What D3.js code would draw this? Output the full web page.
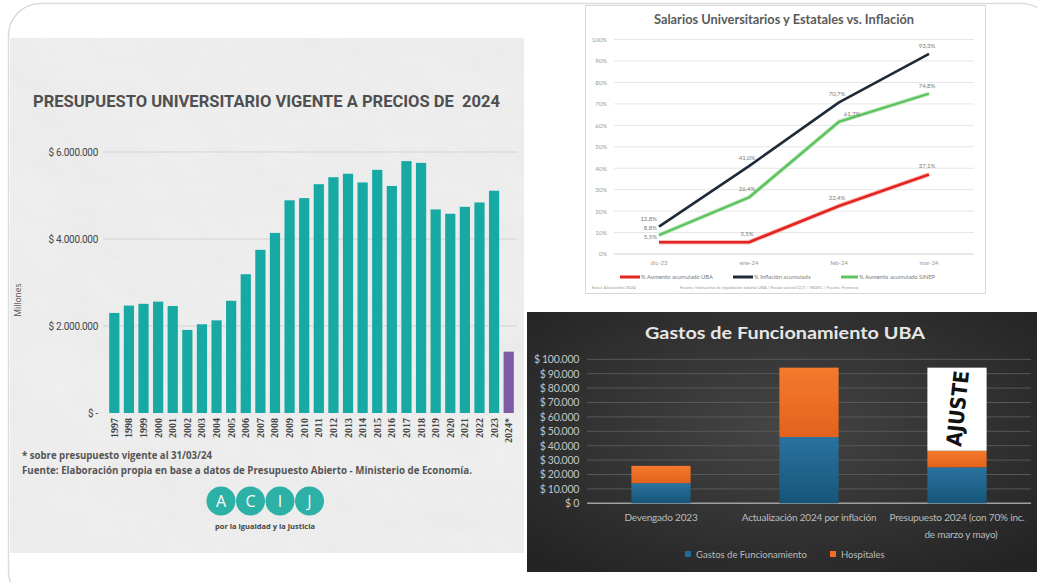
<!DOCTYPE html>
<html><head><meta charset="utf-8">
<script src="https://cdn.jsdelivr.net/npm/d3@7"></script>
<style>html,body{margin:0;padding:0;background:#fff;} svg{display:block;} .pre{white-space:pre;}</style>
</head><body>
<svg id="c" width="1037" height="583"></svg>
<script>
// ---------- Data: chart 1 (Presupuesto universitario) ----------
const years = ["1997","1998","1999","2000","2001","2002","2003","2004","2005","2006","2007","2008","2009","2010","2011","2012","2013","2014","2015","2016","2017","2018","2019","2020","2021","2022","2023","2024*"];
const budget = [2300000,2470000,2510000,2560000,2460000,1910000,2040000,2130000,2580000,3190000,3750000,4140000,4890000,4940000,5260000,5420000,5500000,5300000,5590000,5220000,5790000,5750000,4680000,4580000,4740000,4840000,5110000,1410000];
const budgetTicks = [0,2000000,4000000,6000000];
const budgetTickLabels = ["$ -","$ 2.000.000","$ 4.000.000","$ 6.000.000"];

// ---------- Data: chart 2 (Salarios vs inflación) ----------
const months = ["dic-23","ene-24","feb-24","mar-24"];
const aumentoUBA = [5.5,5.5,22.4,37.1];
const inflacion = [12.8,41.0,70.7,93.3];
const aumentoSINEP = [8.8,26.4,61.7,74.8];
const pctTicks = [0,10,20,30,40,50,60,70,80,90,100];
const lineSeriesNames = ["% Aumento acumulado UBA","% Inflación acumulada","% Aumento acumulado SINEP"];

// ---------- Data: chart 3 (Gastos de funcionamiento UBA) ----------
const gastosCats = ["Devengado 2023","Actualización 2024 por inflación","Presupuesto 2024 (con 70% inc. de marzo y mayo)"];
const gastosFuncionamiento = [14000,46000,25000];
const hospitales = [12000,48200,11500];
const ajuste = [0,0,57700];
const gastosTicks = [0,10000,20000,30000,40000,50000,60000,70000,80000,90000,100000];
const gastosSeriesNames = ["Gastos de Funcionamiento","Hospitales"];

const svg = d3.select("#c");
const defs = svg.append("defs");

// outer rounded frame
svg.append("rect").attr("x",8.5).attr("y",3.5).attr("width",1045).attr("height",600)
  .attr("rx",32).attr("fill","#fff").attr("stroke","#d6dde2").attr("stroke-width",1.5);

// ================= PANEL 1 =================
const paper = defs.append("filter").attr("id","paper").attr("x",0).attr("y",0).attr("width",1).attr("height",1);
paper.append("feTurbulence").attr("type","fractalNoise").attr("baseFrequency","0.006 0.009").attr("numOctaves",4).attr("seed",7).attr("result","n");
const lit = paper.append("feDiffuseLighting").attr("in","n").attr("surfaceScale",3).attr("lighting-color","#ffffff").attr("result","l");
lit.append("feDistantLight").attr("azimuth",135).attr("elevation",55);
paper.append("feComposite").attr("in","l").attr("in2","SourceGraphic").attr("operator","in");

const p1 = svg.append("g");
p1.append("rect").attr("x",10).attr("y",38).attr("width",514).attr("height",515).attr("fill","#f0f0f0");
p1.append("rect").attr("x",10).attr("y",38).attr("width",514).attr("height",515).attr("fill","#fff")
  .attr("filter","url(#paper)").attr("opacity",0.4);

p1.append("text").attr("class","pre").attr("x",33).attr("y",107).attr("textLength",467).attr("lengthAdjust","spacingAndGlyphs")
  .attr("font-family","Roboto").attr("font-weight",700).attr("font-size",16.5).attr("fill","#4f4f4f")
  .text("PRESUPUESTO UNIVERSITARIO VIGENTE A PRECIOS DE  2024");

const x1 = d3.scaleBand().domain(years).range([107,516]).paddingInner(0.3).paddingOuter(0.15);
const y1 = d3.scaleLinear().domain([0,6000000]).range([413,152]);

p1.append("g").selectAll("line").data(budgetTicks.slice(1)).join("line")
  .attr("x1",103).attr("x2",517).attr("y1",d=>y1(d)).attr("y2",d=>y1(d))
  .attr("stroke","#d3d3d3").attr("stroke-width",1);

const ay1 = p1.append("g").attr("transform","translate(98,0)")
  .call(d3.axisLeft(y1).tickValues(budgetTicks).tickFormat((d,i)=>budgetTickLabels[i]).tickSize(0).tickPadding(0));
ay1.select(".domain").remove();
ay1.selectAll("text").attr("font-family","Roboto").attr("font-size",10).attr("fill","#444").attr("letter-spacing",-0.3);

p1.append("g").selectAll("rect").data(budget).join("rect")
  .attr("x",(d,i)=>x1(years[i])).attr("width",x1.bandwidth())
  .attr("y",d=>y1(d)).attr("height",d=>y1(0)-y1(d))
  .attr("fill",(d,i)=>i===years.length-1?"#7d5ba6":"#17aaa5");

const ax1 = p1.append("g").attr("transform","translate(0,416)")
  .call(d3.axisBottom(x1).tickSize(0).tickPadding(0));
ax1.select(".domain").remove();
ax1.selectAll("text").attr("transform","rotate(-90)").attr("text-anchor","end")
  .attr("dy","0.35em").attr("dx",0).attr("x",-2).attr("y",0)
  .attr("font-family","Liberation Serif").attr("font-size",10).attr("font-weight",700).attr("fill","#444");

p1.append("text").attr("transform","translate(21,300) rotate(-90)").attr("text-anchor","middle")
  .attr("font-family","Open Sans").attr("font-size",8.5).attr("fill","#555").text("Millones");

p1.append("text").attr("x",22).attr("y",459).attr("textLength",190).attr("lengthAdjust","spacingAndGlyphs")
  .attr("font-family","Open Sans").attr("font-weight",700).attr("font-size",10).attr("fill","#555")
  .text("* sobre presupuesto vigente al 31/03/24");
p1.append("text").attr("x",22).attr("y",474).attr("textLength",450).attr("lengthAdjust","spacingAndGlyphs")
  .attr("font-family","Open Sans").attr("font-weight",700).attr("font-size",10).attr("fill","#555")
  .text("Fuente: Elaboración propia en base a datos de Presupuesto Abierto - Ministerio de Economía.");

// ACIJ logo
const logo = p1.append("g");
["A","C","I","J"].forEach((l,i)=>{
  const cx = 221 + i*29.5;
  logo.append("circle").attr("cx",cx).attr("cy",501).attr("r",14.5).attr("fill","#2db0a5");
  logo.append("text").attr("x",cx).attr("y",506.5).attr("text-anchor","middle")
    .attr("font-family","Open Sans").attr("font-size",16).attr("fill","#fff").text(l);
});
logo.append("text").attr("x",265).attr("y",529).attr("text-anchor","middle")
  .attr("font-family","Open Sans").attr("font-weight",700).attr("font-size",7.5).attr("fill","#444")
  .text("por la igualdad y la justicia");

// ================= PANEL 2 =================
const p2 = svg.append("g");
p2.append("rect").attr("x",585.5).attr("y",5.5).attr("width",400).attr("height",288)
  .attr("fill","#fff").attr("stroke","#d9d9d9");
p2.append("text").attr("x",784).attr("y",24).attr("text-anchor","middle").attr("textLength",260)
  .attr("lengthAdjust","spacingAndGlyphs")
  .attr("font-family","Lato").attr("font-weight",700).attr("font-size",12.5).attr("fill","#5a5a5a")
  .text("Salarios Universitarios y Estatales vs. Inflación");

const x2 = d3.scaleBand().domain(months).range([614,974]);
const y2 = d3.scaleLinear().domain([0,100]).range([254,39.6]);

p2.append("g").selectAll("line").data(pctTicks).join("line")
  .attr("x1",614).attr("x2",974).attr("y1",d=>y2(d)).attr("y2",d=>y2(d))
  .attr("stroke",d=>d===0?"#cfcfcf":"#e6e6e6").attr("stroke-width",1);

const ay2 = p2.append("g").attr("transform","translate(607,0)")
  .call(d3.axisLeft(y2).tickValues(pctTicks).tickFormat(d=>d+"%").tickSize(0).tickPadding(0));
ay2.select(".domain").remove();
ay2.selectAll("text").attr("font-family","Lato").attr("font-size",6).attr("fill","#999");

const ax2 = p2.append("g").attr("transform","translate(0,261)")
  .call(d3.axisBottom(x2).tickSize(0).tickPadding(0));
ax2.select(".domain").remove();
ax2.selectAll("text").attr("font-family","Lato").attr("font-size",6).attr("fill","#999");

const cx2 = m => x2(m)+x2.bandwidth()/2;
const line2 = d3.line().x((d,i)=>cx2(months[i])).y(d=>y2(d));
const lineSeries = [
  {name:lineSeriesNames[0], vals:aumentoUBA, color:"#e3241f", halo:"#f6a0a0"},
  {name:lineSeriesNames[1], vals:inflacion, color:"#1e2a38", halo:null},
  {name:lineSeriesNames[2], vals:aumentoSINEP, color:"#5fc35f", halo:"#bfe8bf"}
];
lineSeries.forEach(s=>{
  if(s.halo) p2.append("path").attr("d",line2(s.vals)).attr("fill","none").attr("stroke",s.halo)
    .attr("stroke-width",4.5).attr("stroke-linejoin","round").attr("opacity",0.7);
  p2.append("path").attr("d",line2(s.vals)).attr("fill","none").attr("stroke",s.color)
    .attr("stroke-width",2.6).attr("stroke-linejoin","round");
});
// data labels
const fmtPct = v => d3.format(".1f")(v).replace(".",",")+"%";
lineSeries.forEach((s,si)=>{
  p2.append("g").selectAll("text").data(s.vals).join("text")
    .attr("x",(d,i)=>i===0? cx2(months[i])-2 : (i===2&&si===2? cx2(months[i])+13 : cx2(months[i])-2))
    .attr("y",(d,i)=>i===0? y2(d)-3+(si===0?0:(si===2?-2:-3)) : y2(d)-6)
    .attr("text-anchor",(d,i)=>i===0?"end":"middle")
    .attr("font-family","Lato").attr("font-size",6).attr("fill","#7a7a7a")
    .text(d=>fmtPct(d));
});
// legend
const lg2 = [{x:620,w:20,tx:641},{x:733,w:20,tx:754},{x:841,w:17,tx:859}];
lineSeries.forEach((s,i)=>{
  p2.append("line").attr("x1",lg2[i].x).attr("x2",lg2[i].x+lg2[i].w).attr("y1",277).attr("y2",277)
    .attr("stroke",s.color).attr("stroke-width",3);
  p2.append("text").attr("x",lg2[i].tx).attr("y",279).attr("font-family","Lato").attr("font-size",5.8)
    .attr("fill","#7a7a7a").text(s.name);
});
p2.append("text").attr("x",592).attr("y",289).attr("font-family","Lato").attr("font-size",4.3).attr("fill","#9a9a9a")
  .text("Excel: Alessandro 2024");
p2.append("text").attr("x",680).attr("y",289).attr("font-family","Lato").attr("font-size",4.3).attr("fill","#9a9a9a")
  .text("Fuente: Instructivo de liquidación salarial UBA / Escala salarial CCT / INDEC / Fuente: Ferraresi");

// ================= PANEL 3 =================
const rg = defs.append("radialGradient").attr("id","darkbg").attr("cx","50%").attr("cy","45%").attr("r","70%");
rg.append("stop").attr("offset","0%").attr("stop-color","#454545");
rg.append("stop").attr("offset","100%").attr("stop-color","#232323");
const gb = defs.append("linearGradient").attr("id","gblue").attr("x1",0).attr("y1",0).attr("x2",0).attr("y2",1);
gb.append("stop").attr("offset","0%").attr("stop-color","#2a73a0");
gb.append("stop").attr("offset","100%").attr("stop-color","#175578");
const go = defs.append("linearGradient").attr("id","gorange").attr("x1",0).attr("y1",0).attr("x2",0).attr("y2",1);
go.append("stop").attr("offset","0%").attr("stop-color","#f47a2c");
go.append("stop").attr("offset","100%").attr("stop-color","#e3621d");

const p3 = svg.append("g");
p3.append("rect").attr("x",527).attr("y",312).attr("width",510).attr("height",260).attr("fill","url(#darkbg)");
p3.append("text").attr("x",785).attr("y",339).attr("text-anchor","middle").attr("textLength",280)
  .attr("lengthAdjust","spacingAndGlyphs")
  .attr("font-family","Lato").attr("font-weight",700).attr("font-size",17).attr("fill","#e6e6e6")
  .text("Gastos de Funcionamiento UBA");

const x3 = d3.scaleBand().domain(gastosCats).range([587,1031]).paddingInner(0.6).paddingOuter(0.3);
const y3 = d3.scaleLinear().domain([0,100000]).range([503.3,359.3]);

p3.append("g").selectAll("line").data(gastosTicks).join("line")
  .attr("x1",587).attr("x2",1031).attr("y1",d=>y3(d)).attr("y2",d=>y3(d))
  .attr("stroke",d=>d===0?"#a0a0a0":"#585858").attr("stroke-width",d=>d===0?1.5:1);

const fmtMoney = d => d===0 ? "$ 0" : "$ " + d3.format(",")(d).replace(/,/g,".");
const ay3 = p3.append("g").attr("transform","translate(579,0)")
  .call(d3.axisLeft(y3).tickValues(gastosTicks).tickFormat(fmtMoney).tickSize(0).tickPadding(0));
ay3.select(".domain").remove();
ay3.selectAll("text").attr("font-family","Lato").attr("font-size",10.5).attr("fill","#c4c4c4").attr("letter-spacing",-0.3);

const stackData = gastosCats.map((c,i)=>({cat:c, g:gastosFuncionamiento[i], h:hospitales[i], a:ajuste[i]}));
const stacked = d3.stack().keys(["g","h","a"])(stackData);
const fills = {g:"url(#gblue)", h:"url(#gorange)", a:"#ffffff"};
stacked.forEach(layer=>{
  p3.append("g").selectAll("rect").data(layer).join("rect")
    .attr("x",d=>x3(d.data.cat)).attr("width",x3.bandwidth())
    .attr("y",d=>y3(d[1])).attr("height",d=>y3(d[0])-y3(d[1]))
    .attr("fill",fills[layer.key]);
});
// AJUSTE label
const ajIdx = 2;
const ajMid = (y3(stacked[2][ajIdx][0]) + y3(stacked[2][ajIdx][1]))/2;
p3.append("text")
  .attr("transform",`translate(${x3(gastosCats[ajIdx])+x3.bandwidth()/2+8},${ajMid}) rotate(-84)`)
  .attr("text-anchor","middle").attr("textLength",76).attr("lengthAdjust","spacingAndGlyphs")
  .attr("font-family","DejaVu Sans").attr("font-weight",700).attr("font-size",21).attr("fill","#111")
  .text("AJUSTE");

// x labels
const catLines = [["Devengado 2023"],["Actualización 2024 por inflación"],["Presupuesto 2024 (con 70% inc.","de marzo y mayo)"]];
gastosCats.forEach((c,i)=>{
  const t = p3.append("text").attr("text-anchor","middle").attr("font-family","Lato").attr("font-size",10)
    .attr("fill","#bcbcbc").attr("letter-spacing",-0.2);
  catLines[i].forEach((ln,j)=>{
    t.append("tspan").attr("x",x3(c)+x3.bandwidth()/2 + (j===1?4:0)).attr("y",521+j*17).text(ln);
  });
});
// legend
const lg3 = [{x:685,fill:"#1f6a99"},{x:830,fill:"#ee6f25"}];
gastosSeriesNames.forEach((n,i)=>{
  p3.append("rect").attr("x",lg3[i].x).attr("y",551).attr("width",6).attr("height",6).attr("fill",lg3[i].fill);
  p3.append("text").attr("x",lg3[i].x+11).attr("y",557.5).attr("font-family","Lato").attr("font-size",9.5)
    .attr("fill","#bcbcbc").text(n);
});
</script>
</body></html>
